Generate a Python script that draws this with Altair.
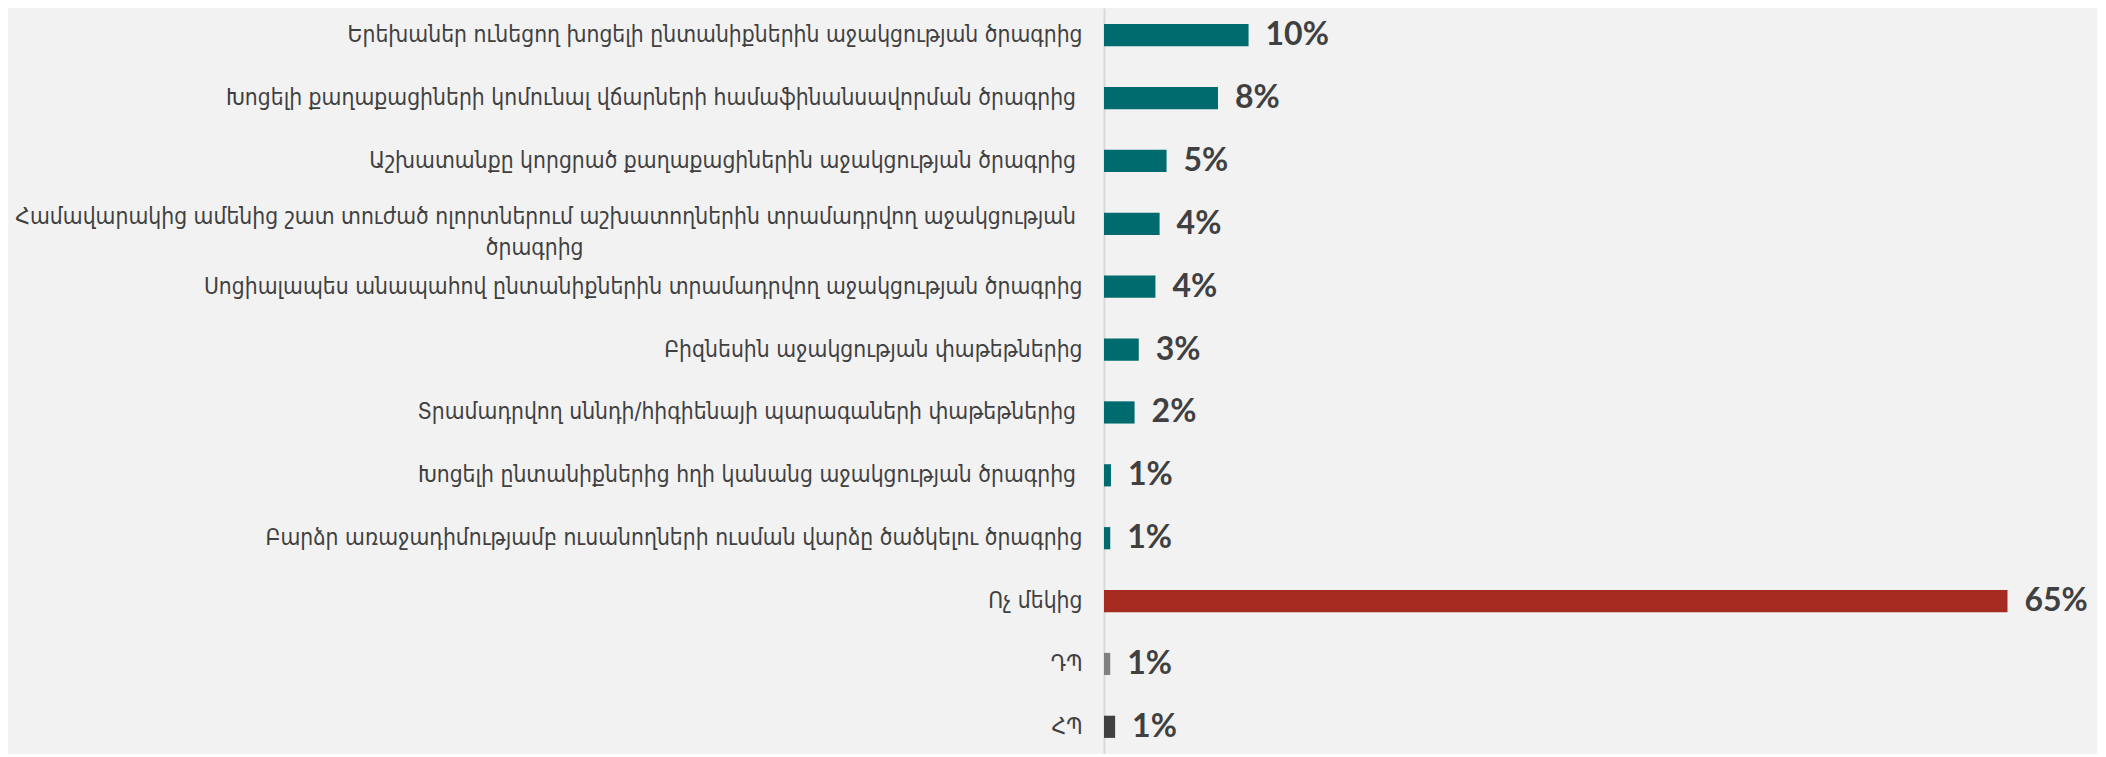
import altair as alt
import pandas as pd

NB = "\u00a0"   # no-break space (kept as label padding)
ZW = "\u200b"   # zero-width end mark so the padding is not trimmed
categories = [
    "Երեխաներ ունեցող խոցելի ընտանիքներին աջակցության ծրագրից",
    "Խոցելի քաղաքացիների կոմունալ վճարների համաֆինանսավորման ծրագրից" + NB + ZW,
    "Աշխատանքը կորցրած քաղաքացիներին աջակցության ծրագրից" + NB + ZW,
    "Համավարակից ամենից շատ տուժած ոլորտներում աշխատողներին տրամադրվող աջակցության" + NB + ZW
    + "\nծրագրից" + NB * 77 + ZW,
    "Սոցիալապես անապահով ընտանիքներին տրամադրվող աջակցության ծրագրից",
    "Բիզնեսին աջակցության փաթեթներից",
    "Տրամադրվող սննդի/հիգիենայի պարագաների փաթեթներից" + NB + ZW,
    "Խոցելի ընտանիքներից հղի կանանց աջակցության ծրագրից" + NB + ZW,
    "Բարձր առաջադիմությամբ ուսանողների ուսման վարձը ծածկելու ծրագրից",
    "Ոչ մեկից",
    "ԴՊ",
    "ՀՊ",
]
values = [10.4, 8.2, 4.5, 4.0, 3.7, 2.5, 2.2, 0.5, 0.45, 65.0, 0.45, 0.8]
value_labels = ["10%", "8%", "5%", "4%", "4%", "3%", "2%", "1%", "1%", "65%", "1%", "1%"]
colors = ["#006B6E"] * 9 + ["#A52A1F", "#808080", "#404040"]

df = pd.DataFrame({
    "category": categories,
    "value": values,
    "label": value_labels,
    "color": colors,
})

y_enc = alt.Y(
    "category:N",
    sort=categories,
    title=None,
    scale=alt.Scale(paddingInner=0.647, paddingOuter=0.256),
    axis=alt.Axis(
        labelExpr="split(datum.value, '\\n')",
        labelFont="DejaVu Sans Condensed, DejaVu Sans",
        labelFontSize=22.7,
        labelColor="#404040",
        labelPadding=22,
        labelLimit=1300,
        labelLineHeight=31,
        labelBaseline={
            "condition": {"test": "indexof(datum.value, '\\n') >= 0", "value": "alphabetic"},
            "value": "middle",
        },
        ticks=False,
        domainColor="#D9D9D9",
        domainWidth=2,
        grid=False,
    ),
)
x_enc = alt.X("value:Q", scale=alt.Scale(domain=[0, 70]), axis=None)

bars = alt.Chart(df).mark_bar().encode(
    x=x_enc,
    y=y_enc,
    color=alt.Color("color:N", scale=None),
)

texts = alt.Chart(df).mark_text(
    align="left", baseline="middle", dx=17,
    font="Lato", fontWeight="bold", fontSize=32, color="#404040",
).encode(
    x=x_enc,
    y=alt.Y("category:N", sort=categories),
    text="label:N",
)

chart = (bars + texts).properties(
    width=973,
    height=746,
    autosize=alt.AutoSizeParams(type="none"),
    padding={"left": 1096, "top": 0, "right": 20, "bottom": 0},
    background="#F2F2F2",
).configure_view(stroke=None)

chart.save("out.html", embed_options={"renderer": "svg", "actions": False})
